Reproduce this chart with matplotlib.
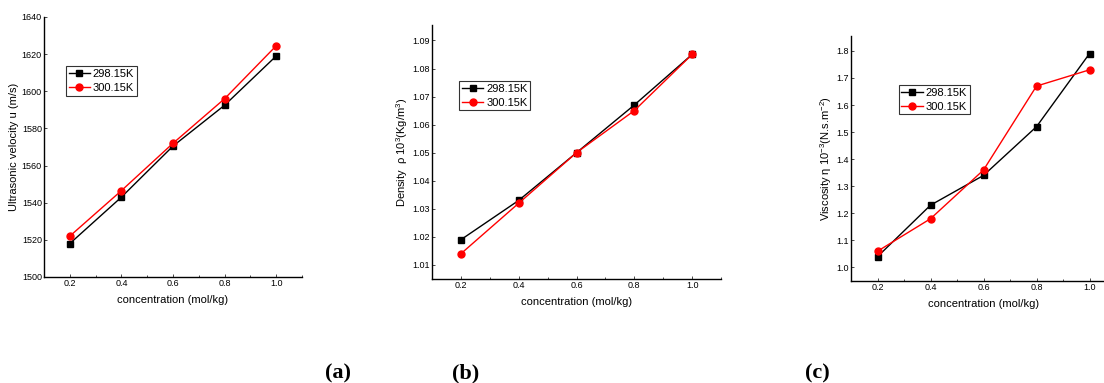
import matplotlib
matplotlib.use("Agg")
import matplotlib.pyplot as plt
from matplotlib.ticker import MultipleLocator

plt.rcParams["font.family"] = ["Liberation Sans", "DejaVu Sans"]
plt.rcParams["mathtext.fontset"] = "custom"
plt.rcParams["mathtext.rm"] = "Liberation Sans"
plt.rcParams["mathtext.it"] = "Liberation Sans:italic"
plt.rcParams["mathtext.default"] = "regular"

# ─── Data ────────────────────────────────────────────────────
conc = [0.2, 0.4, 0.6, 0.8, 1.0]
temps = ["298.15K", "300.15K"]

velocity_298 = [1518, 1543, 1570.5, 1592.5, 1619]
velocity_300 = [1522, 1546.5, 1572, 1596, 1624.5]

density_298 = [1.019, 1.033, 1.050, 1.067, 1.085]
density_300 = [1.014, 1.032, 1.050, 1.065, 1.085]

viscosity_298 = [1.04, 1.23, 1.34, 1.52, 1.79]
viscosity_300 = [1.06, 1.18, 1.36, 1.67, 1.73]

panel_labels = ["(a)", "(b)", "(c)"]

W, H = 1104, 383
fig = plt.figure(figsize=(W / 100, H / 100), dpi=100)


def px_axes(left, top, right, bottom):
    return fig.add_axes([left / W, 1 - bottom / H, (right - left) / W, (bottom - top) / H])


def style(ax, ylim, ymajor, yfmt, ylabel, legend_pos):
    ax.plot(conc, ylim[2], color="black", marker="s", markersize=4.5, linewidth=1,
            label=temps[0])
    ax.plot(conc, ylim[3], color="red", marker="o", markersize=5, linewidth=1,
            label=temps[1])
    ax.set_xlim(0.1, 1.1)
    ax.set_ylim(ylim[0], ylim[1])
    ax.xaxis.set_major_locator(MultipleLocator(0.2))
    ax.xaxis.set_minor_locator(MultipleLocator(0.1))
    ax.yaxis.set_major_locator(MultipleLocator(ymajor))
    ax.xaxis.set_major_formatter(plt.FormatStrFormatter("%.1f"))
    ax.yaxis.set_major_formatter(plt.FormatStrFormatter(yfmt))
    for s in ("top", "right"):
        ax.spines[s].set_visible(False)
    for s in ("left", "bottom"):
        ax.spines[s].set_linewidth(1.0)
    ax.tick_params(which="both", direction="in", length=2, width=0.5, labelsize=6.5)
    ax.tick_params(axis="y", pad=1.5)
    ax.tick_params(axis="x", pad=1.5)
    ax.tick_params(which="minor", length=1.5)
    ax.set_xlabel("concentration (mol/kg)", fontsize=8, labelpad=5)
    ax.set_ylabel(ylabel, fontsize=8, labelpad=2)
    leg = ax.legend(loc="upper left", bbox_to_anchor=legend_pos, fontsize=8,
                    frameon=True, fancybox=False, edgecolor="black", borderpad=0.25,
                    handlelength=1.9, handletextpad=0.25, labelspacing=0.35,
                    borderaxespad=0)
    leg.get_frame().set_linewidth(0.8)


ax1 = px_axes(44, 17, 302, 277)
style(ax1, (1500, 1640, velocity_298, velocity_300), 20, "%d",
      "Ultrasonic velocity u (m/s)", (0.085, 0.81))

ax2 = px_axes(432, 25, 721, 279)
style(ax2, (1.005, 1.0955, density_298, density_300), 0.01, "%.2f",
      "Density  ρ 10$^{3}$(Kg/m$^{3}$)", (0.095, 0.78))

ax3 = px_axes(851, 36, 1116, 281)
style(ax3, (0.95, 1.855, viscosity_298, viscosity_300), 0.1, "%.1f",
      "Viscosity η 10$^{-3}$(N.s.m$^{-2}$)", (0.18, 0.80))

for lbl, xc in zip(panel_labels, [337.5, 466, 817.5]):
    fig.text(xc / W, 1 - 373 / H, lbl, ha="center", va="center", fontsize=16,
             fontweight="bold", family=["Liberation Serif", "DejaVu Serif"])

fig.savefig("out.png", dpi=100)
